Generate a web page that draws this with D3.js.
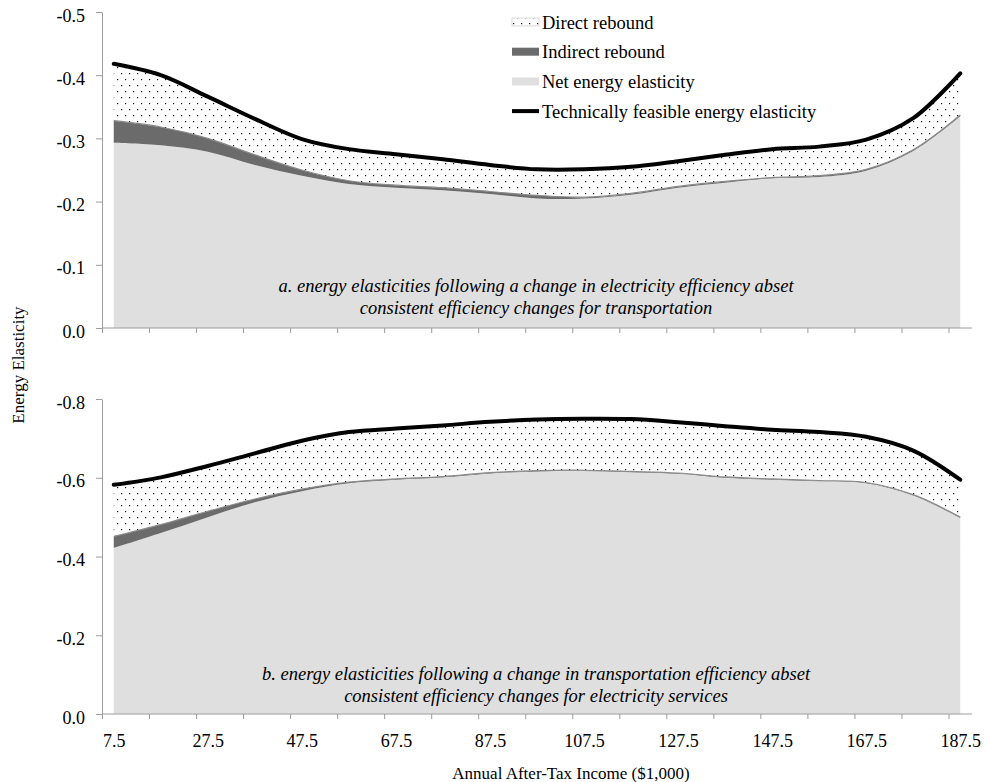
<!DOCTYPE html>
<html>
<head>
<meta charset="utf-8">
<script src="https://cdn.jsdelivr.net/npm/d3@7"></script>
<style>
  body { margin: 0; background: #fff; }
  text { font-family: "Liberation Serif", "Times New Roman", serif; fill: #000; }
</style>
</head>
<body>
<script>
// income categories ($1,000)
var incomes = [7.5, 17.5, 27.5, 37.5, 47.5, 57.5, 67.5, 77.5, 87.5, 97.5,
               107.5, 117.5, 127.5, 137.5, 147.5, 157.5, 167.5, 177.5, 187.5];
var tickLabels = [7.5, 27.5, 47.5, 67.5, 87.5, 107.5, 127.5, 147.5, 167.5, 187.5];

// panel a: electricity efficiency
var netA      = [-0.293, -0.289, -0.279, -0.258, -0.241, -0.228, -0.222, -0.218, -0.212, -0.205,
                 -0.205, -0.211, -0.222, -0.230, -0.237, -0.239, -0.249, -0.280, -0.335];
var indirectA = [-0.035, -0.029, -0.021, -0.016, -0.009, -0.005, -0.004, -0.004, -0.004, -0.005,
                 -0.002, -0.002, -0.002, -0.002, -0.001, -0.002, -0.002, -0.002, -0.002];
var directA   = [-0.090, -0.082, -0.066, -0.057, -0.049, -0.050, -0.049, -0.045, -0.042, -0.041,
                 -0.044, -0.042, -0.040, -0.042, -0.045, -0.046, -0.047, -0.050, -0.066];

// panel b: transportation efficiency
var netB      = [-0.422, -0.460, -0.500, -0.538, -0.566, -0.586, -0.595, -0.601, -0.611, -0.616,
                 -0.617, -0.614, -0.610, -0.600, -0.595, -0.591, -0.586, -0.555, -0.498];
var indirectB = [-0.029, -0.021, -0.015, -0.008, -0.005, -0.003, -0.002, -0.002, -0.002, -0.002,
                 -0.002, -0.002, -0.002, -0.002, -0.002, -0.002, -0.002, -0.002, -0.002];
var directB   = [-0.131, -0.120, -0.115, -0.116, -0.123, -0.127, -0.128, -0.130, -0.129, -0.130,
                 -0.131, -0.133, -0.129, -0.129, -0.125, -0.123, -0.116, -0.112, -0.095];

var ticksA = [0, -0.1, -0.2, -0.3, -0.4, -0.5];
var ticksB = [0, -0.2, -0.4, -0.6, -0.8];

var legendItems = ['Direct rebound', 'Indirect rebound', 'Net energy elasticity',
                   'Technically feasible energy elasticity'];

var noteA = ['a. energy elasticities following a change in electricity efficiency abset',
             'consistent efficiency changes for transportation'];
var noteB = ['b. energy elasticities following a change in transportation efficiency abset',
             'consistent efficiency changes for electricity services'];

var screen = { width: 987, height: 782 };
var axisColor = '#9c9c9c';

var svg = d3.select('body')
            .append('svg')
            .attr('width', screen.width)
            .attr('height', screen.height);

var pat = svg.append('defs')
             .append('pattern')
             .attr('id', 'dots')
             .attr('patternUnits', 'userSpaceOnUse')
             .attr('width', 8)
             .attr('height', 12);
pat.append('rect').attr('width', 8).attr('height', 12).attr('fill', '#fff');
pat.append('rect').attr('x', 1).attr('y', 1).attr('width', 1.2).attr('height', 1.2).attr('fill', '#000');
pat.append('rect').attr('x', 5).attr('y', 7).attr('width', 1.2).attr('height', 1.2).attr('fill', '#000');

var xScale = d3.scaleLinear()
               .domain([5, 190])
               .range([102, 972]);

var curve = d3.curveCatmullRom.alpha(0.5);

function drawPanel(net, indirect, direct, top, bottom, maxVal, ticks, note, noteY, showLabels){
  var yScale = d3.scaleLinear()
                 .domain([0, maxVal])
                 .range([bottom, top]);

  var rows = incomes.map(function(inc, i){
    return { income: inc, net: net[i], indirect: indirect[i], direct: direct[i] };
  });
  var series = d3.stack().keys(['net', 'indirect', 'direct'])(rows);

  var area = d3.area()
               .x(function(d){ return xScale(d.data.income); })
               .y0(function(d){ return yScale(d[0]); })
               .y1(function(d){ return yScale(d[1]); })
               .curve(curve);
  var fills = ['#dfdfdf', '#6b6b6b', 'url(#dots)'];

  var g = svg.append('g');
  g.selectAll('path.layer')
   .data(series)
   .enter()
   .append('path')
   .classed('layer', true)
   .attr('d', area)
   .attr('fill', function(d, i){ return fills[i]; });

  // soft edge on top of the indirect layer
  var edge = d3.line()
               .x(function(d){ return xScale(d.data.income); })
               .y(function(d){ return yScale(d[1]); })
               .curve(curve);
  g.append('path')
   .datum(series[1])
   .attr('d', edge)
   .attr('fill', 'none')
   .attr('stroke', '#8a8a8a')
   .attr('stroke-width', 1.2);

  // technically feasible line = top of stack
  g.append('path')
   .datum(series[2])
   .attr('d', edge)
   .attr('fill', 'none')
   .attr('stroke', '#000')
   .attr('stroke-width', 4)
   .attr('stroke-linejoin', 'round')
   .attr('stroke-linecap', 'round');

  // y axis
  var yAxis = d3.axisLeft(yScale)
                .tickValues(ticks)
                .tickSize(6)
                .tickSizeOuter(0)
                .tickPadding(11)
                .tickFormat(function(d){ return d.toFixed(1); });
  var ya = svg.append('g')
              .attr('transform', 'translate(102,0)')
              .call(yAxis);
  ya.selectAll('path, line').attr('stroke', axisColor);
  ya.selectAll('text')
    .attr('dy', '0.5em')
    .style('font-family', '"Liberation Serif", "Times New Roman", serif')
    .style('font-size', '18px')
    .attr('fill', '#000');

  // x axis ticks
  var xAxis = d3.axisBottom(xScale)
                .tickValues(d3.range(5, 190, 10))
                .tickSize(5)
                .tickSizeOuter(0)
                .tickFormat('');
  var xa = svg.append('g')
              .attr('transform', 'translate(0,' + bottom + ')')
              .call(xAxis);
  xa.select('path').attr('d', 'M102,0H972');
  xa.selectAll('path, line').attr('stroke', axisColor);

  if (showLabels){
    var xLab = d3.axisBottom(xScale)
                 .tickValues(tickLabels)
                 .tickSize(0)
                 .tickPadding(20)
                 .tickFormat(function(d){ return d.toFixed(1); });
    var xl = svg.append('g')
                .attr('transform', 'translate(0,' + bottom + ')')
                .call(xLab);
    xl.select('path').remove();
    xl.selectAll('text')
      .style('font-family', '"Liberation Serif", "Times New Roman", serif')
      .style('font-size', '18px')
      .attr('fill', '#000');
  }

  svg.append('g')
     .selectAll('text')
     .data(note)
     .enter()
     .append('text')
     .attr('x', 536)
     .attr('y', function(d, i){ return noteY + i * 22; })
     .attr('text-anchor', 'middle')
     .style('font-size', '18.5px')
     .style('font-style', 'italic')
     .text(function(d){ return d; });
}

drawPanel(netA, indirectA, directA, 12, 328, -0.5, ticksA, noteA, 292, false);
drawPanel(netB, indirectB, directB, 399, 714, -0.8, ticksB, noteB, 680, true);

// legend
var legend = svg.append('g')
                .selectAll('g')
                .data(legendItems)
                .enter()
                .append('g')
                .attr('transform', function(d, i){ return 'translate(512,' + (22 + i * 29.7) + ')'; });
legend.each(function(d, i){
  var el = d3.select(this);
  if (i === 3){
    el.append('line')
      .attr('x1', 0).attr('x2', 27).attr('y1', 0).attr('y2', 0)
      .attr('stroke', '#000').attr('stroke-width', 4);
  } else {
    el.append('rect')
      .attr('x', 0).attr('y', -4).attr('width', 27).attr('height', 8)
      .attr('fill', ['url(#dots)', '#6b6b6b', '#dfdfdf'][i])
      .attr('stroke', i === 0 ? '#cfcfcf' : 'none')
      .attr('stroke-width', 0.8);
  }
  el.append('text')
    .attr('x', 30)
    .attr('y', 6.5)
    .style('font-size', '18.5px')
    .text(d);
});

// axis titles
svg.append('text')
   .attr('transform', 'translate(24,365) rotate(-90)')
   .attr('text-anchor', 'middle')
   .style('font-size', '17px')
   .text('Energy Elasticity');

svg.append('text')
   .attr('x', 571)
   .attr('y', 779)
   .attr('text-anchor', 'middle')
   .style('font-size', '17px')
   .text('Annual After-Tax Income ($1,000)');
</script>
</body>
</html>
